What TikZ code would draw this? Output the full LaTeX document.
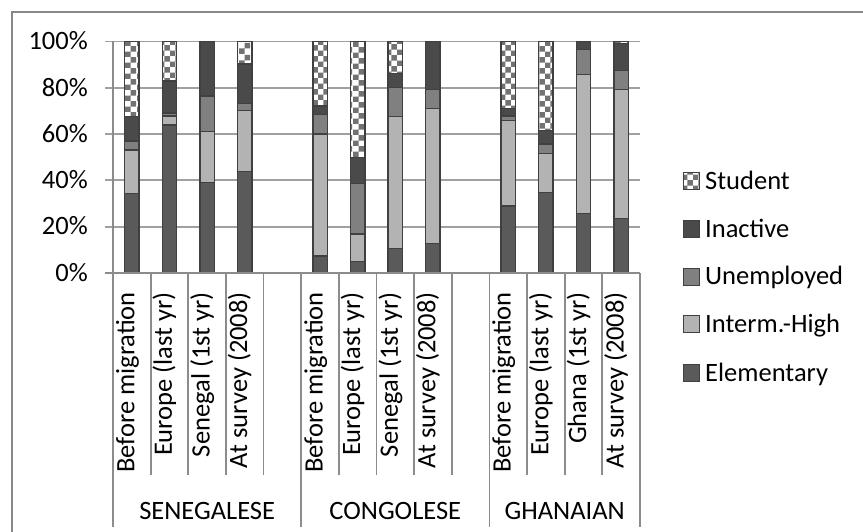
\documentclass[tikz,border=0pt]{standalone}
\usepackage{fontspec}
\setmainfont{Carlito}
\usetikzlibrary{patterns}
\definecolor{elemc}{HTML}{5A5A5A}
\definecolor{ihc}{HTML}{B3B3B3}
\definecolor{unempc}{HTML}{808080}
\definecolor{inactc}{HTML}{4A4A4A}
\definecolor{barline}{HTML}{404040}
\definecolor{gridc}{HTML}{A0A0A0}
\definecolor{axisc}{HTML}{8C8C8C}
\definecolor{studc}{HTML}{727272}
\definecolor{framec}{HTML}{888888}
\tikzset{
  seg/.style={draw=barline, line width=1.4pt},
  elemseg/.style={seg, fill=elemc},
  ihseg/.style={seg, fill=ihc},
  unempseg/.style={seg, fill=unempc},
  inactseg/.style={seg, fill=inactc},
  studseg/.style={seg, preaction={fill=white}, pattern=checkerboard, pattern color=studc},
  gridline/.style={draw=gridc, line width=1.8pt},
  axisline/.style={draw=axisc, line width=1.8pt},
  ylab/.style={anchor=base east, inner sep=0pt},
  catlab/.style={rotate=90, anchor=east, inner sep=0pt, text height=0.75em, text depth=0.25em},
  grouplab/.style={anchor=base, inner sep=0pt},
  legtext/.style={anchor=base west, inner sep=0pt},
}
\newcommand\stackbar[5]{%
  \pgfmathsetmacro\bcx{113+(#1+0.5)*37.64}%
  \pgfmathsetmacro\bya{273-2.315*#2}%
  \pgfmathsetmacro\byb{273-2.315*#3}%
  \pgfmathsetmacro\byc{273-2.315*#4}%
  \pgfmathsetmacro\byd{273-2.315*#5}%
  \draw[elemseg] ({\bcx-7.2},273) rectangle ({\bcx+7.2},\bya);
  \draw[ihseg] ({\bcx-7.2},\bya) rectangle ({\bcx+7.2},\byb);
  \draw[unempseg] ({\bcx-7.2},\byb) rectangle ({\bcx+7.2},\byc);
  \draw[inactseg] ({\bcx-7.2},\byc) rectangle ({\bcx+7.2},\byd);
  \ifdim #5pt<99.9pt
    \draw[studseg] ({\bcx-7.2},\byd) rectangle ({\bcx+7.2},41.5);
  \fi
}
\begin{document}
\begin{tikzpicture}[x=1pt, y=-1pt, font=\fontsize{26.5}{30}\selectfont]
\useasboundingbox (0,0) rectangle (863,532);
\fill[white] (0,0) rectangle (863,532);
% outer frame (left and top edges visible)
\draw[draw=framec, line width=1.8pt] (12,532) -- (12,12) -- (863,12);
% gridlines
\foreach \p in {20,40,60,80,100} {
  \draw[gridline] (105,{273-2.315*\p}) -- (640,{273-2.315*\p});
}
% y labels
\foreach \p in {0,20,40,60,80,100} {
  \node[ylab] (yl\p) at (88,{273-2.315*\p+8.3}) {\p\%};
}
% bars
\stackbar{0}{34.4}{53.1}{57.1}{67.5}
\stackbar{1}{63.9}{67.8}{69.2}{82.9}
\stackbar{2}{39.2}{61.0}{76.5}{100}
\stackbar{3}{43.8}{70.1}{73.3}{90.3}
\stackbar{5}{7.3}{60.0}{68.5}{72.1}
\stackbar{6}{4.9}{16.8}{38.7}{49.8}
\stackbar{7}{10.7}{67.5}{80.2}{86.3}
\stackbar{8}{12.8}{71.1}{79.3}{100}
\stackbar{10}{28.9}{65.8}{67.8}{71.1}
\stackbar{11}{34.9}{51.7}{55.7}{61.5}
\stackbar{12}{25.8}{85.8}{96.6}{100}
\stackbar{13}{23.6}{79.3}{87.4}{99.2}
% axes
\draw[axisline] (105,273) -- (640,273);
\draw[axisline] (113,41.5) -- (113,273);
\foreach \s in {0,5,10,14} {
  \draw[axisline] ({113+\s*37.64},273) -- ({113+\s*37.64},527);
}
\foreach \s in {1,2,3,4,6,7,8,9,11,12,13} {
  \draw[axisline] ({113+\s*37.64},273) -- ({113+\s*37.64},475);
}
% category labels
\foreach \s/\t [count=\i] in {0/Before migration,1/Europe (last yr),2/Senegal (1st yr),3/At survey (2008),
  5/Before migration,6/Europe (last yr),7/Senegal (1st yr),8/At survey (2008),
  10/Before migration,11/Europe (last yr),12/Ghana (1st yr),13/At survey (2008)} {
  \node[catlab] (c\i) at ({113+(\s+0.5)*37.64},292) {\t};
}
% group labels
\node[grouplab] (gsen) at (207.2,519) {SENEGALESE};
\node[grouplab] (gcon) at (395.3,519) {CONGOLESE};
\node[grouplab] (ggha) at (564.7,519) {GHANAIAN};
% legend
\draw[studseg, line width=1pt] (683.5,172.5) rectangle (699.5,189.5);
\node[legtext] (lstud) at (705,189.4) {Student};
\draw[inactseg, line width=1pt] (683.5,220.5) rectangle (699.5,237.5);
\node[legtext] (linact) at (705,237.4) {Inactive};
\draw[unempseg, line width=1pt] (683.5,268) rectangle (699.5,285);
\node[legtext] (lunemp) at (705,284.9) {Unemployed};
\draw[ihseg, line width=1pt] (683.5,315.5) rectangle (699.5,332.5);
\node[legtext] (lih) at (705,332.4) {Interm.-High};
\draw[elemseg, line width=1pt] (683.5,364.5) rectangle (699.5,381.5);
\node[legtext] (lelem) at (705,381.4) {Elementary};
\end{tikzpicture}
\end{document}
